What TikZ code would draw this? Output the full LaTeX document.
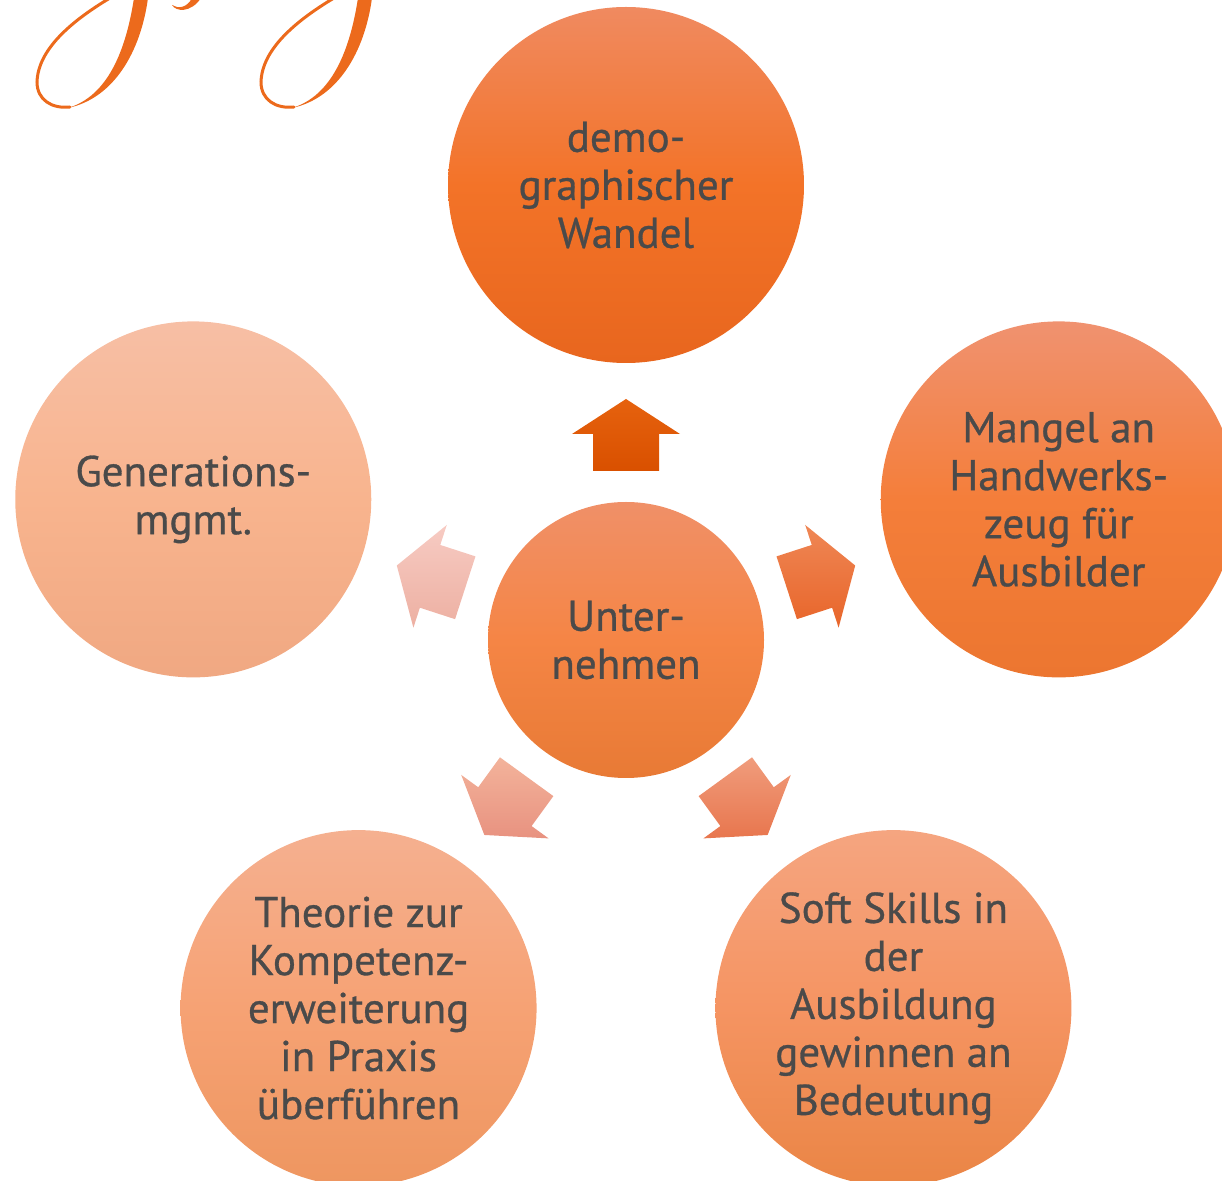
\documentclass[tikz,border=0pt]{standalone}
\usepackage{fontspec}
\setmainfont{PT Sans}
\newfontfamily\labelfont{PT Sans}[FakeBold=0.7]
\usetikzlibrary{calc}
\definecolor{txt}{HTML}{4A4A4A}
\definecolor{script}{HTML}{EC6A1C}
% circle colours
\definecolor{c1t}{HTML}{F08A60}\definecolor{c1m}{HTML}{F37328}\definecolor{c1b}{HTML}{E8661E}
\definecolor{c2t}{HTML}{F09270}\definecolor{c2m}{HTML}{F47E3A}\definecolor{c2b}{HTML}{EC7630}
\definecolor{c3t}{HTML}{F5A580}\definecolor{c3m}{HTML}{F59462}\definecolor{c3b}{HTML}{EA8545}
\definecolor{c4t}{HTML}{F5B090}\definecolor{c4m}{HTML}{F6A274}\definecolor{c4b}{HTML}{EE9660}
\definecolor{c5t}{HTML}{F7BFA5}\definecolor{c5m}{HTML}{F8B48E}\definecolor{c5b}{HTML}{F0A882}
\definecolor{c0t}{HTML}{F09068}\definecolor{c0m}{HTML}{F58545}\definecolor{c0b}{HTML}{E87A35}
% arrow colours
\definecolor{a1t}{HTML}{E6620E}\definecolor{a1b}{HTML}{D95000}
\definecolor{a2t}{HTML}{EF8755}\definecolor{a2b}{HTML}{E8652A}
\definecolor{a3t}{HTML}{F09C7C}\definecolor{a3b}{HTML}{E8764E}
\definecolor{a4t}{HTML}{F3B39B}\definecolor{a4b}{HTML}{E89280}
\definecolor{a5t}{HTML}{F7CBC3}\definecolor{a5b}{HTML}{EDB0A2}
\begin{document}
\begin{tikzpicture}[x=0.5pt,y=-0.5pt,
  bubble/.style={circle, inner sep=0pt, minimum size=178pt, align=center,
    text=txt, font=\labelfont\fontsize{21.5pt}{24pt}\selectfont},
  hubstyle/.style={bubble, minimum size=138pt},
  scriptline/.style={draw=script, line width=1.5pt, line cap=round},
  scriptfill/.style={fill=script}]
\useasboundingbox (0,0) rectangle (1222,1181);
\clip (0,0) rectangle (1222,1181);

% decorative script descenders
\foreach \dx in {0,224}{
  \begin{scope}[shift={(\dx,0)}]
    \fill[scriptfill] (148,-2) .. controls (141,50) and (115,98) .. (68,108)
      .. controls (108,96) and (126,50) .. (134,-2) -- cycle;
    \draw[scriptline] (110,-2) .. controls (70,22) and (38,50) .. (37,82)
      .. controls (37,100) and (52,109) .. (70,107);
  \end{scope}
}
\fill[scriptfill] (172,5) .. controls (176,12) and (191,13) .. (201,-2) -- (192,-2)
  .. controls (187,8) and (178,9) .. (172,5) -- cycle;

% hub
\node[hubstyle, top color=c0t, bottom color=c0b, middle color=c0m] (hub) at (626,640) {Unter-\\nehmen};

% outer circles
\node[bubble, top color=c1t, bottom color=c1b, middle color=c1m] (top) at ($(hub)+(-90:455)$) {demo-\\graphischer\\Wandel};
\node[bubble, top color=c2t, bottom color=c2b, middle color=c2m] (right) at ($(hub)+(-18:455)$) {Mangel an\\Handwerks-\\zeug für\\Ausbilder};
\node[bubble, top color=c3t, bottom color=c3b, middle color=c3m] (bright) at ($(hub)+(54:455)$) {Soft Skills in\\der\\Ausbildung\\gewinnen an\\Bedeutung};
\node[bubble, top color=c4t, bottom color=c4b, middle color=c4m] (bleft) at ($(hub)+(126:455)$) {Theorie zur\\Kompetenz-\\erweiterung\\in Praxis\\überführen};
\node[bubble, top color=c5t, bottom color=c5b, middle color=c5m] (left) at ($(hub)+(198:455)$) {Generations-\\mgmt.};

% block arrows
\foreach \a/\ct/\cb in {-90/a1t/a1b, -18/a2t/a2b, 54/a3t/a3b, 126/a4t/a4b, 198/a5t/a5b}{
  \shade[top color=\ct, bottom color=\cb]
    ($(hub)+(\a:169)+(\a+90:33)$) -- ($(hub)+(\a:206)+(\a+90:33)$)
    -- ($(hub)+(\a:206)+(\a+90:54)$) -- ($(hub)+(\a:241)$)
    -- ($(hub)+(\a:206)+(\a-90:54)$) -- ($(hub)+(\a:206)+(\a-90:33)$)
    -- ($(hub)+(\a:169)+(\a-90:33)$) -- cycle;
}
\end{tikzpicture}
\end{document}
